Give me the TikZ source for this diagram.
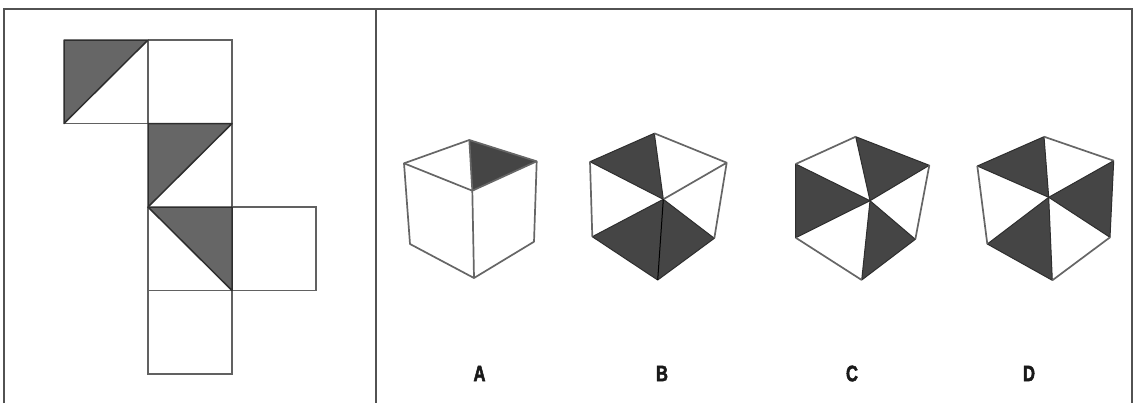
\documentclass[tikz,border=0pt]{standalone}
\usepackage{fontspec}
\newfontfamily\letterfont{Liberation Sans Bold}[FakeStretch=0.74,FakeBold=2.2]
\tikzset{
  x=0.5pt,y=-0.5pt,
  frameline/.style={draw=black!68,line width=1.25pt},
  netline/.style={draw=black!62,line width=0.95pt,line join=miter},
  netdark/.style={draw=black!82,line width=0.75pt,line join=round},
  cubeline/.style={draw=black!60,line width=0.85pt,line join=round},
  cubedark/.style={fill=black!73,draw=black!82,line width=0.5pt,line join=round},
  letter/.style={font=\letterfont\fontsize{11.2}{13}\selectfont,text=black!90,inner sep=0pt},
}
\begin{document}
\begin{tikzpicture}
\useasboundingbox (0,0) rectangle (1144,403);
\fill[white] (0,0) rectangle (1144,403);
% frame
\coordinate (fa) at (4,403);\coordinate (fb) at (4,9);\coordinate (fc) at (1132,9);\coordinate (fd) at (1132,403);
\coordinate (da) at (376,9);\coordinate (db) at (376,403);
\draw[frameline] (fa)--(fb)--(fc)--(fd);
\draw[frameline] (da)--(db);
% net
\fill[black!60] (64,40)--(148,40)--(64,123.5)--cycle;
\fill[black!60] (148,123.5)--(232,123.5)--(148,207)--cycle;
\fill[black!60] (148,207)--(232,207)--(232,290.5)--cycle;
\draw[netline] (64,123.5)--(148,123.5) (148,40)--(232,40)--(232,123.5) (148,40)--(148,123.5);
\draw[netline] (232,123.5)--(232,207) (148,207)--(148,290.5)--(232,290.5);
\draw[netline] (232,207)--(316,207)--(316,290.5)--(232,290.5);
\draw[netline] (148,290.5)--(148,374)--(232,374)--(232,290.5);
\draw[netdark] (64,40)--(148,40)--(64,123.5)--cycle;
\draw[netdark] (148,123.5)--(232,123.5)--(148,207)--cycle;
\draw[netdark] (148,207)--(232,207)--(232,290.5)--cycle;
% cube A
\fill[black!73] (469.3,140)--(536.7,161.3)--(472.3,190.7)--cycle;
\draw[cubeline] (469.3,140)--(536.7,161.3)--(534,241.7)--(474,278)--(410,244)--(404,163.3)--cycle;
\draw[cubeline] (404,163.3)--(472.3,190.7)--(536.7,161.3) (472.3,190.7)--(474,278) (469.3,140)--(472.3,190.7);
% cube B
\filldraw[cubedark] (654.3,133.3)--(590,161.7)--(663.3,199.3)--cycle;
\filldraw[cubedark] (592.3,236.7)--(663.3,199.3)--(714.3,238.3)--(657.7,280)--cycle;
\draw[cubeline] (654.3,133.3)--(726.7,162.7)--(714.3,238.3) (590,161.7)--(592.3,236.7) (663.3,199.3)--(726.7,162.7);
\draw[draw=black,line width=0.5pt] (663.3,199.3)--(657.7,280);
% cube C
\filldraw[cubedark] (855.7,136.7)--(929.3,165.3)--(870,200.7)--cycle;
\filldraw[cubedark] (795.7,164)--(795.7,237.7)--(870,200.7)--cycle;
\filldraw[cubedark] (861.7,280)--(915.3,239.3)--(870,200.7)--cycle;
\draw[cubeline] (855.7,136.7)--(795.7,164) (929.3,165.3)--(915.3,239.3) (795.7,237.7)--(861.7,280);
% cube D
\filldraw[cubedark] (1044,136.7)--(977.3,166)--(1048.7,197.3)--cycle;
\filldraw[cubedark] (1113.7,160.7)--(1110,237.3)--(1048.7,197.3)--cycle;
\filldraw[cubedark] (987.3,244)--(1052.3,280.3)--(1048.7,197.3)--cycle;
\draw[cubeline] (1044,136.7)--(1113.7,160.7) (977.3,166)--(987.3,244) (1110,237.3)--(1052.3,280.3);
% letters
\node[letter] (la) at (479.5,373.5) {A};
\node[letter] (lb) at (662,373.5) {B};
\node[letter] (lc) at (852,373.5) {C};
\node[letter] (ld) at (1029,373.5) {D};
\end{tikzpicture}
\end{document}
